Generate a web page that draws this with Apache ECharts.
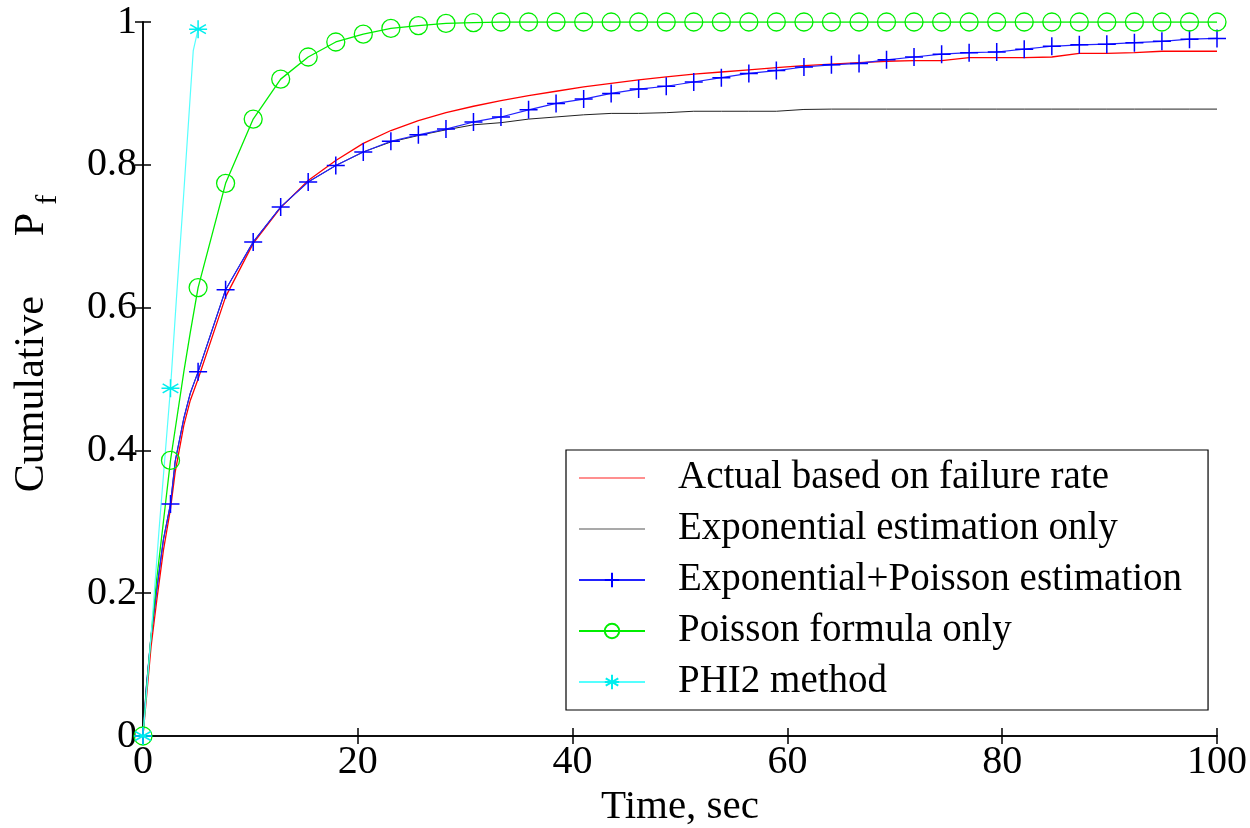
<!DOCTYPE html>
<html>
<head>
<meta charset="utf-8">
<script src="https://cdn.jsdelivr.net/npm/echarts@6/dist/echarts.min.js"></script>
<style>
html,body{margin:0;padding:0;background:#fff;}
#chart{width:1250px;height:828px;}
</style>
</head>
<body>
<div id="chart"></div>
<script>
// ---- data ----
const seriesNames = ['Actual based on failure rate','Exponential estimation only','Exponential+Poisson estimation','Poisson formula only','PHI2 method'];
const xTicks = [0, 20, 40, 60, 80, 100];
const yTicks = [0, 0.2, 0.4, 0.6, 0.8, 1];

// sample times where markers are drawn
const tGrid = [0, 2.56, 5.13, 7.69, 10.26, 12.82, 15.38, 17.95, 20.51, 23.08, 25.64, 28.21, 30.77, 33.33, 35.9, 38.46, 41.03, 43.59, 46.15, 48.72, 51.28, 53.85, 56.41, 58.97, 61.54, 64.1, 66.67, 69.23, 71.79, 74.36, 76.92, 79.49, 82.05, 84.62, 87.18, 89.74, 92.31, 94.87, 97.44, 100];

const actualY = [0, 0.318, 0.50, 0.615, 0.69, 0.74, 0.778, 0.806, 0.830, 0.848, 0.862, 0.873, 0.882, 0.890, 0.897, 0.903, 0.909, 0.914, 0.919, 0.923, 0.927, 0.930, 0.933, 0.936, 0.939, 0.941, 0.943, 0.945, 0.946, 0.946, 0.950, 0.950, 0.950, 0.951, 0.956, 0.956, 0.957, 0.959, 0.959, 0.959];
const expY = [0, 0.325, 0.51, 0.625, 0.692, 0.741, 0.776, 0.799, 0.818, 0.832, 0.841, 0.849, 0.856, 0.859, 0.864, 0.867, 0.870, 0.872, 0.872, 0.873, 0.875, 0.875, 0.875, 0.875, 0.8775, 0.878, 0.878, 0.878, 0.878, 0.878, 0.878, 0.878, 0.878, 0.878, 0.878, 0.878, 0.878, 0.878, 0.878, 0.878];
const expPoiY = [0, 0.325, 0.51, 0.625, 0.692, 0.741, 0.776, 0.799, 0.818, 0.833, 0.842, 0.850, 0.860, 0.867, 0.877, 0.886, 0.892, 0.900, 0.906, 0.910, 0.916, 0.922, 0.928, 0.932, 0.937, 0.940, 0.942, 0.947, 0.951, 0.955, 0.957, 0.958, 0.962, 0.966, 0.968, 0.969, 0.971, 0.973, 0.976, 0.977];
const poissonY = [0, 0.386, 0.628, 0.774, 0.864, 0.920, 0.951, 0.972, 0.983, 0.991, 0.995, 0.998, 0.999, 1, 1, 1, 1, 1, 1, 1, 1, 1, 1, 1, 1, 1, 1, 1, 1, 1, 1, 1, 1, 1, 1, 1, 1, 1, 1, 1];

// extra points between markers (no marker drawn there)
const earlyT = [0.3, 0.75, 1.28, 1.9, 3.0, 3.8, 4.4];
const earlyActual = [0.05, 0.125, 0.19, 0.26, 0.37, 0.435, 0.47];
const earlyExp = [0.067, 0.14, 0.205, 0.275, 0.385, 0.445, 0.48];
const earlyExpPoi = [0.067, 0.14, 0.205, 0.275, 0.385, 0.445, 0.48];
const earlyPoisson = [0.06, 0.14, 0.22, 0.30, 0.43, 0.51, 0.565];

// PHI2 method curve
const phi2T = [0, 0.8, 1.5, 2.56, 3.1, 3.75, 4.37, 4.68, 5.13];
const phi2Y = [0, 0.15, 0.29, 0.487, 0.61, 0.75, 0.89, 0.96, 0.99];

// ---- build series data ----
function build(t1, y1, t2, y2) {
  const pts = [];
  const grid = new Set(tGrid);
  for (let i = 0; i < t1.length; i++) {
    const item = { value: [t1[i], y1[i]] };
    if (!grid.has(t1[i])) item.symbol = 'none';
    pts.push(item);
  }
  for (let i = 0; i < t2.length; i++) pts.push({ value: [t2[i], y2[i]], symbol: 'none' });
  pts.sort((a, b) => a.value[0] - b.value[0]);
  return pts;
}

const FONT = '"Liberation Serif", "Times New Roman", serif';
const plusPath = 'path://M0,-10L0,10M-10,0L10,0';
const starPath = 'path://M0,-10L0,10M-8.7,-5L8.7,5M-8.7,5L8.7,-5M-10,0L10,0';
const lineIcon = 'path://M0,0L0.01,0M0,18L0.01,18M0,8.4L66,8.4L66,9.6L0,9.6Z';

const chart = echarts.init(document.getElementById('chart'), null, { renderer: 'canvas' });

const axisCommon = {
  type: 'value',
  axisLine: { show: true, lineStyle: { color: '#000', width: 1.5 } },
  axisTick: { show: true, inside: true, length: 8, lineStyle: { color: '#000', width: 1.5 } },
  splitLine: { show: false }
};

chart.setOption({
  animation: false,
  backgroundColor: '#fff',
  grid: { left: 143, right: 33, top: 22, bottom: 92, containLabel: false, outerBoundsMode: 'none' },
  xAxis: [
    Object.assign({}, axisCommon, {
      position: 'bottom', min: xTicks[0], max: xTicks[xTicks.length - 1], interval: xTicks[1] - xTicks[0],
      name: 'Time, sec', nameLocation: 'middle', nameGap: 43,
      nameTextStyle: { fontFamily: FONT, fontSize: 41, color: '#000' },
      axisLabel: { show: true, margin: 6, fontFamily: FONT, fontSize: 40, color: '#000' }
    }),
    Object.assign({}, axisCommon, {
      position: 'top', min: xTicks[0], max: xTicks[xTicks.length - 1], interval: xTicks[1] - xTicks[0],
      axisLabel: { show: false }
    })
  ],
  yAxis: [
    Object.assign({}, axisCommon, {
      position: 'left', min: yTicks[0], max: yTicks[yTicks.length - 1], interval: yTicks[1] - yTicks[0],
      name: '{a|Cumulative}{p|P}{b|f}', nameLocation: 'middle', nameGap: 90,
      nameTextStyle: {
        fontFamily: FONT, color: '#000',
        rich: {
          a: { fontFamily: FONT, fontSize: 42, lineHeight: 42, verticalAlign: 'top', color: '#000', padding: [0, 0, 0, 71] },
          p: { fontFamily: FONT, fontSize: 42, lineHeight: 42, verticalAlign: 'top', color: '#000', padding: [0, 0, 0, 60] },
          b: { fontFamily: FONT, fontSize: 30, lineHeight: 30, padding: [22, 0, 0, 8], verticalAlign: 'top', color: '#000' }
        }
      },
      axisLabel: { show: true, margin: 6, fontFamily: FONT, fontSize: 40, color: '#000',
        formatter: v => String(Math.round(v * 10) / 10) }
    }),
    Object.assign({}, axisCommon, {
      position: 'right', min: yTicks[0], max: yTicks[yTicks.length - 1], interval: yTicks[1] - yTicks[0],
      axisLabel: { show: false }
    })
  ],
  legend: {
    left: 566, top: 450, orient: 'vertical',
    backgroundColor: '#fff', borderColor: '#000', borderWidth: 1.2,
    padding: [8, 26, 8, 12],
    itemWidth: 66, itemHeight: 18, itemGap: 11,
    textStyle: { fontFamily: FONT, fontSize: 39, lineHeight: 40, color: '#000', padding: [0, 0, 0, 28] },
    data: [
      { name: seriesNames[0], icon: lineIcon },
      { name: seriesNames[1], icon: lineIcon },
      { name: seriesNames[2] },
      { name: seriesNames[3] },
      { name: seriesNames[4] }
    ]
  },
  series: [
    {
      name: seriesNames[0], type: 'line', xAxisIndex: 0, yAxisIndex: 0,
      data: build(tGrid, actualY, earlyT, earlyActual),
      symbol: 'none', showSymbol: false,
      lineStyle: { color: '#ff0000', width: 1.3 }, itemStyle: { color: '#ff2020' }
    },
    {
      name: seriesNames[1], type: 'line',
      data: build(tGrid, expY, earlyT, earlyExp),
      symbol: 'none', showSymbol: false,
      lineStyle: { color: '#222', width: 1 }, itemStyle: { color: '#555' }
    },
    {
      name: seriesNames[2], type: 'line',
      data: build(tGrid, expPoiY, earlyT, earlyExpPoi),
      symbol: plusPath, symbolSize: 18, showAllSymbol: true,
      lineStyle: { color: '#2222ff', width: 1.2 },
      itemStyle: { color: '#0000ff', borderColor: '#0000ff', borderWidth: 1.5 }
    },
    {
      name: seriesNames[3], type: 'line',
      data: build(tGrid, poissonY, earlyT, earlyPoisson),
      symbol: 'circle', symbolSize: 18, showAllSymbol: true,
      lineStyle: { color: '#00ee00', width: 1.3 },
      itemStyle: { color: 'rgba(0,0,0,0)', borderColor: '#00ee00', borderWidth: 1.3 }
    },
    {
      name: seriesNames[4], type: 'line',
      data: build(phi2T, phi2Y, [], []),
      symbol: starPath, symbolSize: 18, showAllSymbol: true,
      lineStyle: { color: '#55ffff', width: 1.2 },
      itemStyle: { color: '#00ffff', borderColor: '#00eeee', borderWidth: 1.5 }
    }
  ]
});
</script>
</body>
</html>
